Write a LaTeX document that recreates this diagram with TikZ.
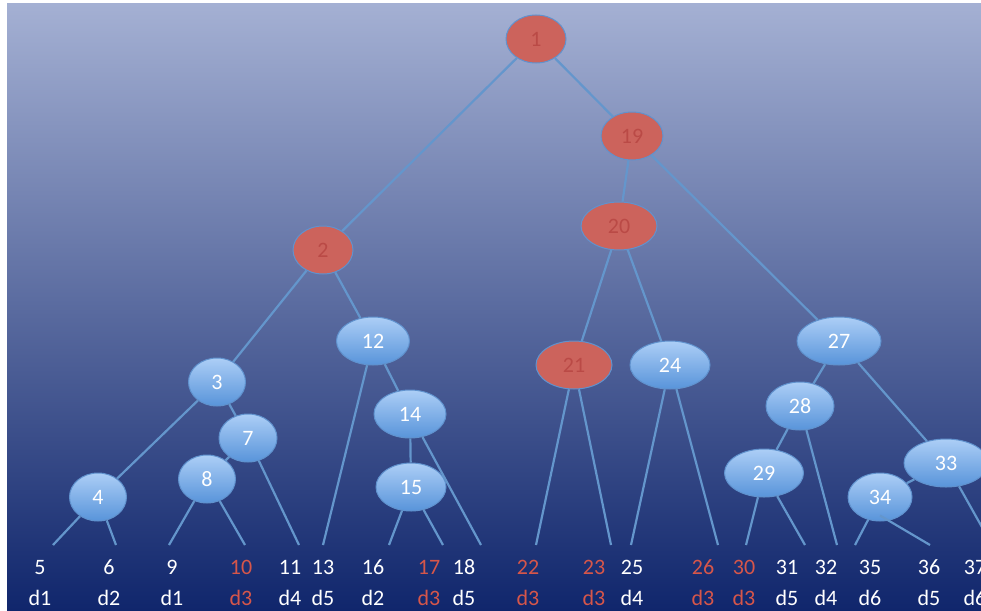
\documentclass[tikz,border=0pt]{standalone}
\usepackage{fontspec}
\setmainfont{Carlito}
\usetikzlibrary{shapes.geometric}

\definecolor{bgtop}{RGB}{164,176,211}
\definecolor{bgmid}{RGB}{90,108,158}
\definecolor{bgbot}{RGB}{16,38,108}
\definecolor{bluetop}{RGB}{172,206,246}
\definecolor{bluebot}{RGB}{88,148,218}
\definecolor{rimblue}{RGB}{96,146,206}
\definecolor{redfill}{RGB}{204,99,92}
\definecolor{redtext}{RGB}{186,74,70}
\definecolor{leafred}{RGB}{214,86,74}
\definecolor{edgeblue}{RGB}{100,150,204}

\begin{document}
\begin{tikzpicture}[x=1pt,y=-1pt,
  every node/.style={font=\fontsize{22}{26}\selectfont},
  inner/.style={ellipse,draw=rimblue,line width=1pt,top color=bluetop,bottom color=bluebot,
    text=white,minimum height=48pt,inner sep=0pt},
  marked/.style={ellipse,draw=rimblue,line width=1pt,fill=redfill,text=redtext,
    minimum height=48pt,inner sep=0pt},
  edge/.style={draw=edgeblue,line width=2.2pt},
  leaf/.style={inner sep=0pt,anchor=base}]
\useasboundingbox (0,0) rectangle (981,610);
\fill[white] (0,0) rectangle (981,610);
\shade[top color=bgtop,middle color=bgmid,bottom color=bgbot] (7,4) rectangle (981,610);

\node[marked,minimum width=60pt] (n1) at (536,39) {1};
\node[marked,minimum width=62pt] (n19) at (632,136) {19};
\node[marked,minimum width=76pt] (n20) at (619,226) {20};
\node[marked,minimum width=60pt] (n2) at (323,250) {2};
\node[inner,minimum width=73pt] (n12) at (373,341) {12};
\node[marked,minimum width=76pt] (n21) at (574,365) {21};
\node[inner,minimum width=80pt] (n24) at (670,365) {24};
\node[inner,minimum width=84pt] (n27) at (839,341) {27};
\node[inner,minimum width=57pt] (n3) at (217,382) {3};
\node[inner,minimum width=58pt] (n7) at (248,438) {7};
\node[inner,minimum width=72pt] (n14) at (410,414) {14};
\node[inner,minimum width=68pt] (n28) at (800,406) {28};
\node[inner,minimum width=57pt] (n8) at (207,479) {8};
\node[inner,minimum width=70pt] (n15) at (411,487) {15};
\node[inner,minimum width=79pt] (n29) at (764,473) {29};
\node[inner,minimum width=84pt] (n33) at (946,463) {33};
\node[inner,minimum width=64pt] (n34) at (880,497) {34};
\node[inner,minimum width=57pt] (n4) at (98,497) {4};

\foreach \n/\d/\x/\ex/\c in {5/d1/40/53/white,6/d2/109/116/white,9/d1/172/169/white,
    10/d3/241/245/leafred,11/d4/290/299/white,13/d5/323/323/white,16/d2/373/389/white,
    17/d3/429/443/leafred,18/d5/464/481/white,22/d3/528/536/leafred,23/d3/594/611/leafred,
    25/d4/632/631/white,26/d3/703/718/leafred,30/d3/744/746/leafred,31/d5/787/805/white,
    32/d4/826/837/white,35/d6/870/855/white,36/d5/929/930/white,37/d6/975/992/white}{
  \coordinate (e\n) at (\ex,545);
  \node[leaf,text=\c] (l\n) at (\x,574) {\n};
  \node[leaf,text=\c] (d\n) at (\x,605) {\d};
}

\draw[edge] (n1) -- (n2);
\draw[edge] (n1) -- (n19);
\draw[edge] (n19) -- (n20);
\draw[edge] (n19) -- (n27);
\draw[edge] (n2) -- (n3);
\draw[edge] (n2) -- (n12);
\draw[edge] (n3) -- (n4);
\draw[edge] (n3) -- (n7);
\draw[edge] (n4) -- (e5);
\draw[edge] (n4) -- (e6);
\draw[edge] (n7) -- (n8);
\draw[edge] (n7) -- (e11);
\draw[edge] (n8) -- (e9);
\draw[edge] (n8) -- (e10);
\draw[edge] (n12) -- (e13);
\draw[edge] (n12) -- (n14);
\draw[edge] (n14) -- (n15);
\draw[edge] (n14) -- (e18);
\draw[edge] (n15) -- (e16);
\draw[edge] (n15) -- (e17);
\draw[edge] (n20) -- (n21);
\draw[edge] (n20) -- (n24);
\draw[edge] (n21) -- (e22);
\draw[edge] (n21) -- (e23);
\draw[edge] (n24) -- (e25);
\draw[edge] (n24) -- (e26);
\draw[edge] (n27) -- (n28);
\draw[edge] (n27) -- (n33);
\draw[edge] (n28) -- (n29);
\draw[edge] (n28) -- (e32);
\draw[edge] (n29) -- (e30);
\draw[edge] (n29) -- (e31);
\draw[edge] (n33) -- (n34);
\draw[edge] (n33) -- (e37);
\draw[edge] (n34) -- (e35);
\draw[edge] ([yshift=6pt]n34.south) -- (e36);
\end{tikzpicture}
\end{document}
